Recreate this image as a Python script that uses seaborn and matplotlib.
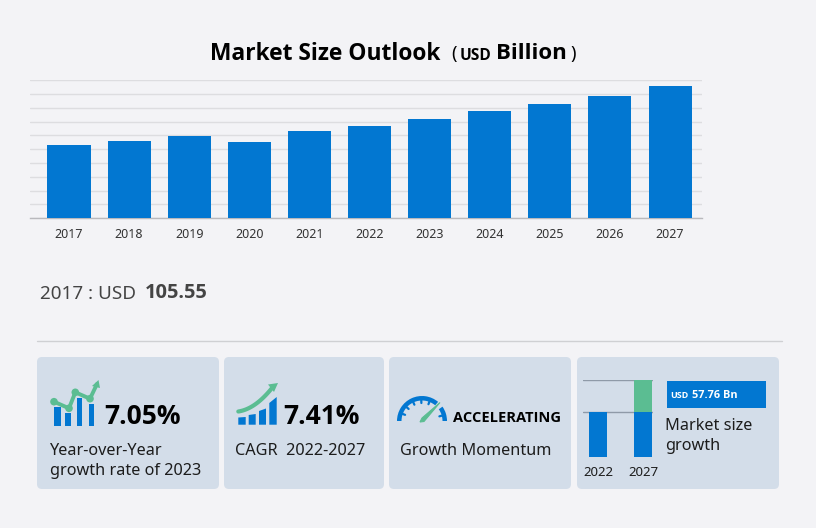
import matplotlib
matplotlib.use("Agg")
import matplotlib.pyplot as plt
from matplotlib.patches import FancyBboxPatch, Rectangle, Wedge, Polygon, Circle
import numpy as np
import pandas as pd
import seaborn as sns

years = ["2017","2018","2019","2020","2021","2022","2023","2024","2025","2026","2027"]
market_size = [105.55,111.6,118.8,110.1,126.0,134.5,144.0,155.0,166.0,178.0,192.26]
growth_years = ["2022","2027"]
growth_base = [134.5,134.5]
growth_increment = [0,57.76]

BG="#f3f3f6"; BLUE="#0277d1"; CARD="#d3dde9"; GREEN="#5bbd92"; INK="#1c1c1c"

sns.set_theme(style="white")
plt.rcParams['font.family']=['Noto Sans','DejaVu Sans']
W,H=816,528
fig=plt.figure(figsize=(W/100,H/100),dpi=100,facecolor=BG)

def box(x0,y0,x1,y1):
    return [x0/W,1-y1/H,(x1-x0)/W,(y1-y0)/H]

bg=fig.add_axes([0,0,1,1],zorder=0)
bg.set_xlim(0,W); bg.set_ylim(H,0); bg.axis("off")

# cards
for x0,x1 in [(37,219),(224,384),(389,571),(577,779)]:
    bg.add_patch(FancyBboxPatch((x0+5,362),x1-x0-10,122,boxstyle="round,pad=5,rounding_size=5",fc=CARD,ec="none"))
bg.plot([37,782],[340.5,340.5],color="#cfd0d3",lw=1)

def T(x,y,s,size,weight="normal",color=INK,**k):
    fam=['Open Sans','DejaVu Sans'] if weight=="bold" else ['Noto Sans','DejaVu Sans']
    bg.text(x,y,s,fontsize=size,fontweight=weight,family=fam,color=color,va="center",ha=k.pop("ha","left"),**k)

# main chart
ax=fig.add_axes(box(30,80.5,702,218),zorder=2)
ax.patch.set_alpha(0)
df=pd.DataFrame({"year":years,"size":market_size})
sns.barplot(data=df,x="year",y="size",color=BLUE,saturation=1,width=0.716,linewidth=0,ax=ax,zorder=3)
ax.set_xlim(-0.649,10.532); ax.set_ylim(0,200)
ax.set_yticks(np.arange(0,201,20)); ax.tick_params(left=False,labelleft=False,bottom=False,pad=1.5)
ax.tick_params(axis="x",labelsize=9,labelcolor="#333333")
ax.grid(axis="y",color="#dddde0",lw=1); ax.set_axisbelow(True)
ax.set_xlabel(""); ax.set_ylabel("")
for s in ["top","left","right"]: ax.spines[s].set_visible(False)
ax.spines["bottom"].set_color("#b9b9bd"); ax.spines["bottom"].set_linewidth(1)

# title
T(210,53.5,"Market Size Outlook",16.4,"bold","#000000")
T(451,54,"(",13,"normal","#000000")
T(460,56,"USD",11.2,"bold","#000000")
T(495.5,53.5,"Billion",16,"bold","#000000")
T(570,54,")",13,"normal","#000000")

# readout
T(40,294,"2017 : USD",13.6,color="#444444")
T(145,293,"105.55",14.4,"bold","#444444")

# card texts
T(104,416,"7.05%",19,"bold","#000000")
T(50,451,"Year-over-Year",11.7)
T(50,471,"growth rate of 2023",11.7)
T(283,416,"7.41%",19,"bold","#000000")
T(235,451,"CAGR  2022-2027",11.7)
T(453,417.5,"ACCELERATING",10.5,"bold","#000000")
T(400,451,"Growth Momentum",11.7)
T(665,426,"Market size",11.7)
T(665,446,"growth",11.7)

# icon: yoy
for x0,x1,t in [(54,60.7,407.3),(65,70.7,412.7),(76.7,82.3,397.7),(88.7,94.3,404)]:
    bg.add_patch(Rectangle((x0,t),x1-x0,426-t,fc=BLUE,ec="none"))
lx=[54,69,75.3,90,97]; ly=[401.7,408.3,392.3,398.7,384]
bg.plot(lx,ly,color=GREEN,lw=2.8,solid_joinstyle="round")
for x,y in zip(lx[:4],ly[:4]):
    bg.add_patch(Circle((x,y),3.8,fc=GREEN,ec="none"))
bg.add_patch(Polygon([[98.5,380],[92,386],[100,388]],fc=GREEN,ec="none"))

# icon: cagr
for x0,x1,t0,t1 in [(238.3,245.7,417.5,417),(248.7,255.7,415,414),(259,266,411,408.5),(269.3,276.7,403,397)]:
    bg.add_patch(Polygon([[x0,424.7],[x0,t0],[x1,t1],[x1,424.7]],fc=BLUE,ec="none"))
t=np.linspace(0,1,30)
cx=238.3+(272-238.3)*t; cy=411.5*(1-t)**2+2*t*(1-t)*409+388*t**2
bg.plot(cx,cy,color=GREEN,lw=3)
bg.add_patch(Polygon([[278,383],[268,384.5],[274,392]],fc=GREEN,ec="none"))

# icon: gauge
gc=(422,421)
bg.add_patch(Wedge(gc,25,180,310,width=4.5,fc=BLUE,ec="none"))
bg.add_patch(Wedge(gc,25,325,360,width=4.5,fc=BLUE,ec="none"))
for a in np.deg2rad([200,222,245,268,291,345]):
    bg.plot([gc[0]+21*np.cos(a),gc[0]+18*np.cos(a)],[gc[1]+21*np.sin(a),gc[1]+18*np.sin(a)],color=BLUE,lw=1.6)
bg.add_patch(Polygon([[440,402.5],[422,418],[420,422],[424,421.5]],fc=GREEN,ec=GREEN,lw=0.8))

# growth mini chart
mini=fig.add_axes(box(583,380.3,653,456.7),zorder=2)
mini.patch.set_alpha(0)
gd=pd.DataFrame({"year":growth_years,"base":growth_base,"inc":growth_increment})
sns.barplot(data=gd,x="year",y="inc",bottom=gd["base"],color=GREEN,saturation=1,width=0.387,linewidth=0,ax=mini,zorder=3)
sns.barplot(data=gd,x="year",y="base",color=BLUE,saturation=1,width=0.387,linewidth=0,ax=mini,zorder=3)
mini.set_xlim(-0.333,1.222); mini.set_ylim(55.1,192.26)
mini.set_yticks([134.5,192.26])
mini.grid(axis="y",color="#8f9aa8",lw=1); mini.set_axisbelow(True)
mini.tick_params(left=False,labelleft=False,bottom=False,pad=1)
mini.tick_params(axis="x",labelsize=9.5,labelcolor=INK)
mini.set_xlabel(""); mini.set_ylabel("")
for s in mini.spines.values(): s.set_visible(False)

bg.add_patch(Rectangle((667,381),99,26.7,fc=BLUE,ec="none"))
T(670,396,"USD",6.5,"bold","white")
T(692,396,"57.76 Bn",7.8,"bold","white")

fig.savefig("out.png",dpi=100,facecolor=BG)
